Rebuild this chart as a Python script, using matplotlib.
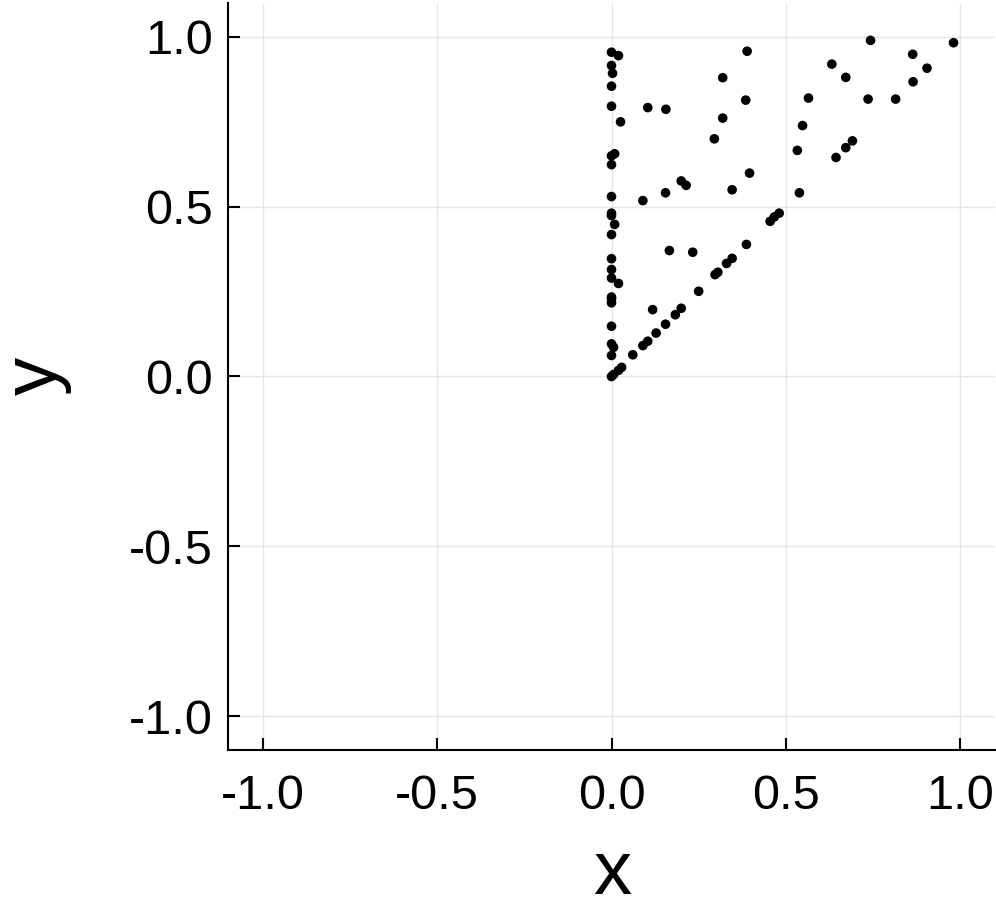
import matplotlib
matplotlib.use("Agg")
import matplotlib.pyplot as plt
import numpy as np

# points (x, y)
xs = [0.0, 0.02, 0.389, 0.0, 0.003, 0.0, 0.319, 0.385, 0.0, 0.104, 0.156,
      0.026, 0.319, 0.295, 0.0, 0.009, 0.0, 0.396, 0.200, 0.214, 0.346,
      0.0, 0.155, 0.090, 0.0, 0.0, 0.009, 0.0, 0.0, 0.0, 0.0, 0.02, 0.0,
      0.0, 0.0, 0.0, 0.0, 0.006, 0.0, 0.0, 0.006, 0.02, 0.029,
      0.061, 0.090, 0.104, 0.128, 0.155, 0.183, 0.200, 0.250, 0.297, 0.305,
      0.330, 0.346, 0.387, 0.455, 0.467, 0.481,
      0.118, 0.166, 0.233,
      0.539, 0.533, 0.548, 0.565, 0.644, 0.672, 0.691, 0.632, 0.672, 0.736,
      0.815, 0.743, 0.864, 0.865, 0.905, 0.981]
ys = [0.955, 0.945, 0.958, 0.916, 0.893, 0.855, 0.880, 0.814, 0.796, 0.792, 0.787,
      0.750, 0.761, 0.700, 0.650, 0.656, 0.624, 0.599, 0.576, 0.563, 0.550,
      0.530, 0.541, 0.518, 0.481, 0.474, 0.448, 0.418, 0.347, 0.315, 0.290, 0.274, 0.234,
      0.229, 0.217, 0.148, 0.096, 0.086, 0.062, 0.0, 0.006, 0.018, 0.027,
      0.064, 0.091, 0.104, 0.128, 0.154, 0.182, 0.201, 0.251, 0.300, 0.307,
      0.333, 0.348, 0.389, 0.457, 0.470, 0.481,
      0.197, 0.371, 0.366,
      0.541, 0.666, 0.739, 0.820, 0.645, 0.674, 0.694, 0.920, 0.881, 0.817,
      0.817, 0.990, 0.949, 0.868, 0.908, 0.983]
ticks = [-1.0, -0.5, 0.0, 0.5, 1.0]
tick_labels = ["-1.0", "-0.5", "0.0", "0.5", "1.0"]

plt.rcParams['font.family'] = ['Liberation Sans', 'DejaVu Sans']

fig = plt.figure(figsize=(9.96, 9.11), dpi=100)
W, H = 996, 911
ax = fig.add_axes([228 / W, 1 - 750 / H, (995 - 228) / W, (750 - 3) / H])

ax.scatter(xs, ys, s=48, c='black', edgecolors='none', zorder=3)

ax.set_xlim(-1.1, 1.1)
ax.set_ylim(-1.1, 1.1)
ax.set_xticks(ticks)
ax.set_xticklabels(tick_labels)
ax.set_yticks(ticks)
ax.set_yticklabels(tick_labels)
ax.grid(True, color='#e6e6e6', linewidth=1.0, zorder=0)
ax.set_axisbelow(True)

for side in ['top', 'right']:
    ax.spines[side].set_visible(False)
for side in ['left', 'bottom']:
    ax.spines[side].set_linewidth(1.5)

ax.tick_params(axis='both', direction='in', length=8.5, width=1.5, labelsize=35)
ax.tick_params(axis='x', pad=17)
ax.tick_params(axis='y', pad=11)

fig.text(612 / W, 1 / H, 'x', fontsize=55, ha='center', va='bottom')
fig.text(1 / W, 1 - 376 / H, 'y', fontsize=55, rotation=90, ha='left', va='center')

fig.savefig('out.png', dpi=100)
